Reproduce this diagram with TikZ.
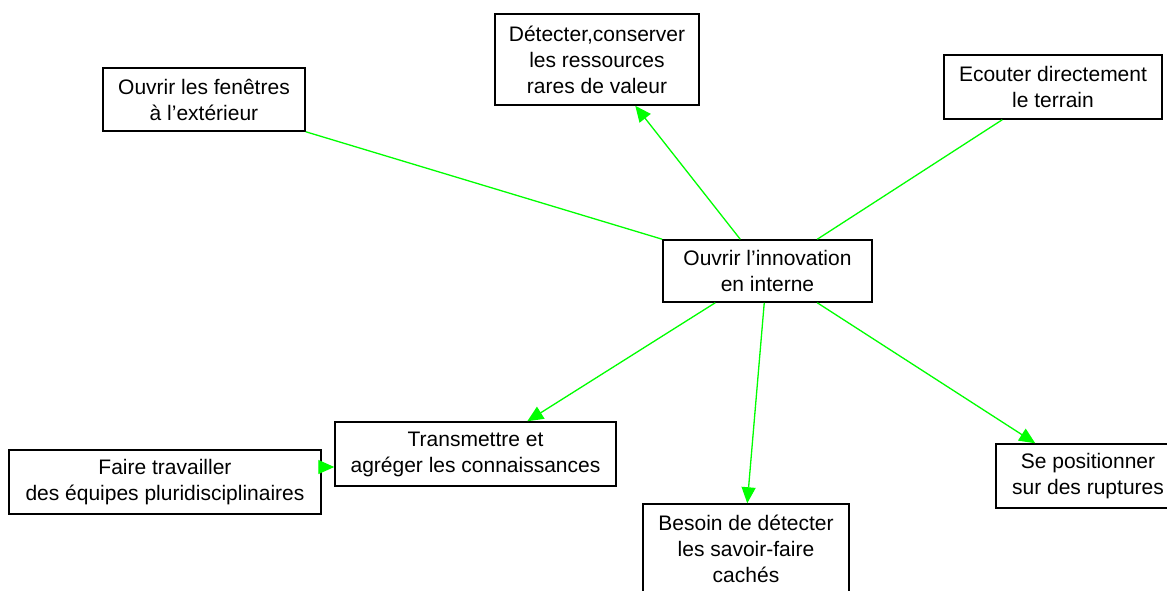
\documentclass[tikz,border=0pt]{standalone}
\usepackage{fontspec}
\setmainfont{Liberation Sans}
\usetikzlibrary{arrows.meta}
\begin{document}
\begin{tikzpicture}[x=1pt,y=-1pt,
  box/.style={draw=black,line width=1.5pt,fill=white,align=center,inner sep=0pt,
    font=\fontsize{21}{26}\selectfont},
  link/.style={draw={rgb,255:red,0;green,255;blue,0},line width=1.3pt},
  arr/.style={link,-{Triangle[length=16pt,width=14pt]},
    fill={rgb,255:red,0;green,255;blue,0}}]
\useasboundingbox[fill=white] (0,0) rectangle (1167,590);
\node[box,minimum width=202pt,minimum height=63pt] (f) at (204,99.5) {Ouvrir les fenêtres\\à l’extérieur};
\node[box,minimum width=204pt,minimum height=91pt] (d) at (597,59.5) {Détecter,conserver\\les ressources\\rares de valeur};
\node[box,minimum width=218pt,minimum height=64pt] (e) at (1053,87) {Ecouter directement\\le terrain};
\node[box,minimum width=209pt,minimum height=62pt] (c) at (767.5,271) {Ouvrir l’innovation\\en interne};
\node[box,minimum width=281pt,minimum height=64pt] (t) at (475.5,454) {Transmettre et\\agréger les connaissances};
\node[box,minimum width=312pt,minimum height=64pt] (w) at (165,482) {Faire travailler\\des équipes pluridisciplinaires};
\node[box,minimum width=206pt,minimum height=90pt] (b) at (746,549) {Besoin de détecter\\les savoir-faire\\cachés};
\node[box,minimum width=184pt,minimum height=64pt] (s) at (1088,476) {Se positionner\\sur des ruptures};
\draw[link] (c.north west) -- (f.south east);
\draw[link] ([xshift=155pt]c.north west) -- ([xshift=59pt]e.south west);
\draw[arr] ([xshift=78pt]c.north west) -- ([xshift=141pt]d.south west);
\draw[arr] ([xshift=53pt]c.south west) -- ([xshift=193pt]t.north west);
\draw[arr] ([xshift=102pt]c.south west) -- ([xshift=105pt]b.north west);
\draw[arr] ([xshift=155pt]c.south west) -- ([xshift=40pt]s.north west);
\draw[arr] ([yshift=15pt]w.east) -- ([yshift=-13pt]t.west);
\end{tikzpicture}
\end{document}
